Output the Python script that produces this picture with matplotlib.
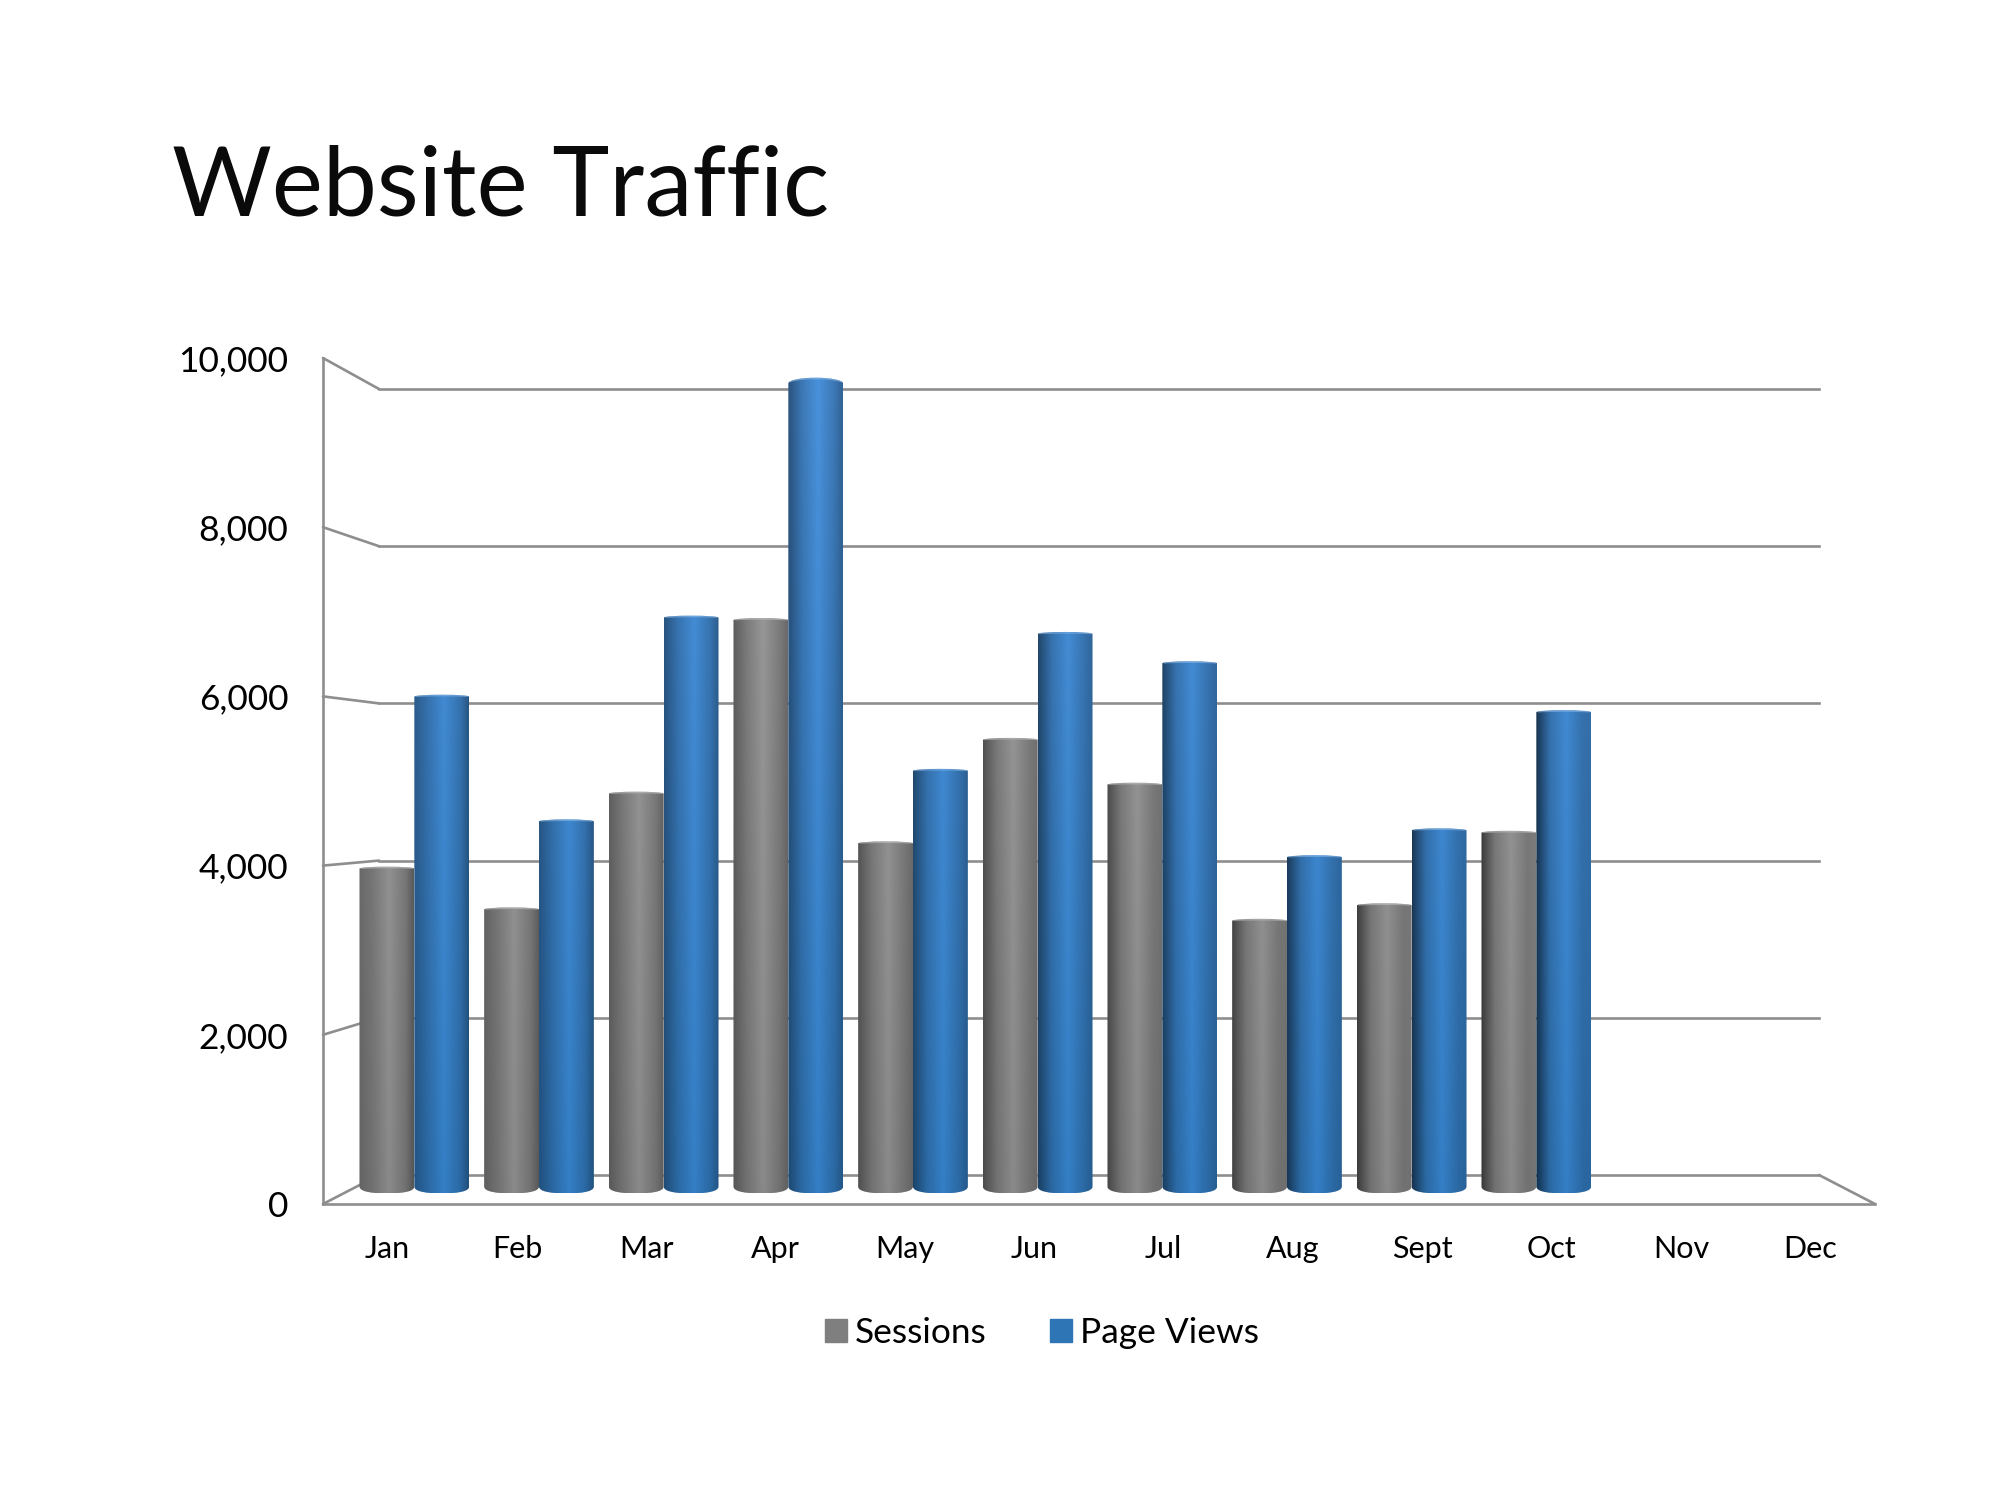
import numpy as np
import matplotlib
matplotlib.use("Agg")
import matplotlib.pyplot as plt
from matplotlib.colors import to_rgb
from matplotlib.patches import ConnectionPatch, Patch, PathPatch
from matplotlib.path import Path

# data
months = ["Jan", "Feb", "Mar", "Apr", "May", "Jun", "Jul", "Aug", "Sept", "Oct", "Nov", "Dec"]
sessions = [3900, 3400, 4820, 6950, 4210, 5480, 4930, 3260, 3450, 4340]
page_views = [6010, 4480, 6980, 9900, 5100, 6780, 6420, 4040, 4370, 5820]
y_ticks = [0, 2000, 4000, 6000, 8000, 10000]

GRID = "#8e8e8e"
W, H = 2000, 1500
plt.rcParams["font.family"] = ["Lato", "DejaVu Sans"]


def place(fig, left, top, right, bottom, **kw):
    # axes box given in picture pixels
    return fig.add_axes([left / W, 1 - bottom / H, (right - left) / W, (bottom - top) / H], **kw)


def shade(mid_top, mid_low, pos, left_dark, right_dark, rows):
    # cylinder shading across, slightly brighter towards the top of the chart
    u = np.linspace(0, 1, 80)
    t = np.linspace(0, 1, 120)[:, None][:rows]
    lit = np.interp(u, [0, 0.25, 0.55, 0.85, 1],
                    [left_dark[0] + (left_dark[1] - left_dark[0]) * pos, 0.82, 1.0, 0.82,
                     right_dark[0] + (right_dark[1] - right_dark[0]) * pos])
    img = np.zeros((rows, 80, 3))
    for c in range(3):
        mid = to_rgb(mid_low)[c] + (to_rgb(mid_top)[c] - to_rgb(mid_low)[c]) * t
        img[:, :, c] = mid * lit
    return np.clip(img, 0, 1)


def cylinder(ax, x, width, value, style, pos):
    x0, x1 = x - width / 2, x + width / 2
    low = 55
    apex = value + low
    # the top ellipse opens up only on the tallest columns
    drop = 25 + max(0, value - 7000) * 0.016
    shoulder = apex - drop
    k = 0.5523 * width / 2
    verts = [(x0, 30), (x0, shoulder),
             (x0, shoulder + drop * 0.55), (x - k, apex), (x, apex),
             (x + k, apex), (x1, shoulder + drop * 0.55), (x1, shoulder),
             (x1, 30),
             (x1, -low * 0.6), (x + k, -low), (x, -low),
             (x - k, -low), (x0, -low * 0.6), (x0, 30),
             (x0, 30)]
    codes = [Path.MOVETO, Path.LINETO,
             Path.CURVE4, Path.CURVE4, Path.CURVE4,
             Path.CURVE4, Path.CURVE4, Path.CURVE4,
             Path.LINETO,
             Path.CURVE4, Path.CURVE4, Path.CURVE4,
             Path.CURVE4, Path.CURVE4, Path.CURVE4,
             Path.CLOSEPOLY]
    outline = PathPatch(Path(verts, codes), facecolor="none", edgecolor="none")
    ax.add_patch(outline)
    # shorter columns only use the lower part of the vertical fade
    rows = max(20, int(120 * value / 10000))
    grad = shade(style["top"], style["low"], pos, style["left"], style["right"], rows)
    im = ax.imshow(grad, extent=(x0, x1, -low, apex), origin="lower",
                   aspect="auto", interpolation="bilinear", zorder=3)
    im.set_clip_box(ax.figure.bbox)
    im.set_clip_path(outline)
    # lighter rim on the top of the column
    top = np.linspace(x0 + width * 0.04, x1 - width * 0.04, 40)
    ax.plot(top, shoulder + (drop - 12) * np.sqrt(np.clip(1 - ((top - x) / (width / 2)) ** 2, 0, 1)),
            color=style["cap"], lw=1.0, alpha=0.55, zorder=4, clip_on=False)


gray_style = {"top": "#9c9c9c", "low": "#8a8a8a", "left": (0.72, 0.40), "right": (0.62, 0.85), "cap": "#c4c4c4"}
blue_style = {"top": "#4a92dc", "low": "#347fc6", "left": (0.66, 0.38), "right": (0.62, 0.80), "cap": "#8fbbe6"}

fig = plt.figure(figsize=(20, 15), dpi=100, facecolor="white")

# back wall, carries the gridlines
back = place(fig, 379, 389, 1819, 1175)
back.set_xlim(0, 12)
back.set_ylim(0, 10000)
back.set_yticks(y_ticks)
back.set_xticks([])
back.set_yticklabels([])
back.tick_params(length=0)
back.grid(axis="y", color=GRID, lw=1.9)
back.set_axisbelow(True)
for s in back.spines.values():
    s.set_visible(False)
for ln in back.get_ygridlines():
    ln.set_clip_on(False)

# front plane, carries the axis lines and labels
front = place(fig, 323, 358, 1875, 1204)
front.patch.set_alpha(0)
front.set_xlim(0, 12)
front.set_ylim(0, 10000)
front.set_yticks(y_ticks)
front.set_yticklabels([f"{v:,}" for v in y_ticks], fontsize=25.5, color="black")
front.set_xticks(np.arange(12) + 0.5)
front.set_xticklabels(months, fontsize=22, color="black")
front.tick_params(length=0)
front.tick_params(axis="y", pad=25)
front.tick_params(axis="x", pad=22)
for side in ("top", "right"):
    front.spines[side].set_visible(False)
for side in ("left", "bottom"):
    front.spines[side].set_color(GRID)
    front.spines[side].set_linewidth(1.9)

# depth lines between the two planes
for v in y_ticks:
    fig.add_artist(ConnectionPatch((0, v), (0, v), "data", "data", axesA=front, axesB=back,
                                   color=GRID, lw=1.9, zorder=1))
fig.add_artist(ConnectionPatch((12, 0), (12, 0), "data", "data", axesA=front, axesB=back,
                               color=GRID, lw=1.9, zorder=1))

# columns sit half way between the planes
ax = place(fig, 352, 374, 1848, 1189)
ax.patch.set_alpha(0)
ax.set_zorder(5)
ax.set_xlim(0, 12)
ax.set_ylim(0, 10000)
ax.axis("off")
bar_w = 0.44
for i, v in enumerate(sessions):
    cylinder(ax, i + 0.5 - bar_w / 2, bar_w, v, gray_style, i / 9)
for i, v in enumerate(page_views):
    cylinder(ax, i + 0.5 + bar_w / 2, bar_w, v, blue_style, i / 9)
ax.set_xlim(0, 12)
ax.set_ylim(0, 10000)

handles = [Patch(color="#7f7f7f", label="Sessions"), Patch(color="#2e75b6", label="Page Views")]
fig.legend(handles=handles, loc="center", bbox_to_anchor=(1042 / W, 1 - 1333 / H), ncol=2,
           frameon=False, fontsize=25.4, handlelength=0.61, handleheight=0.61,
           handletextpad=0.23, columnspacing=1.8)

fig.text(172 / W, 1 - 216 / H, "Website Traffic", fontsize=69.5, color="#0a0a0a", va="baseline")

fig.savefig("out.png", dpi=100)
